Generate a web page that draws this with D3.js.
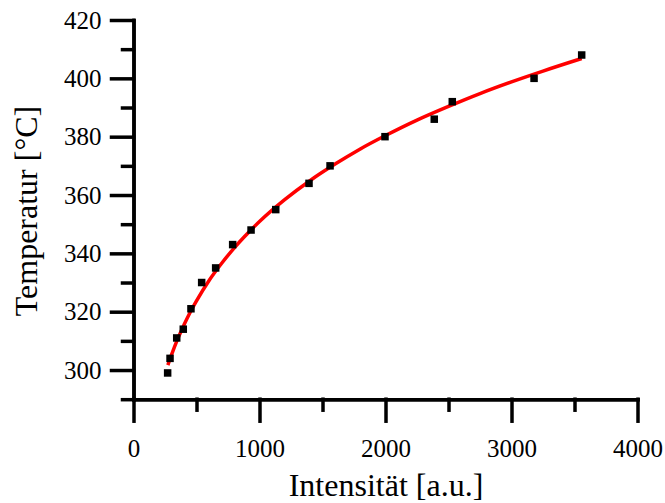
<!DOCTYPE html>
<html>
<head>
<meta charset="utf-8">
<script src="https://cdn.jsdelivr.net/npm/d3@7"></script>
<style>
    body { margin: 0; background: #fff; }
    svg { display: block; }
</style>
</head>
<body>
<div id="chart"></div>
<script>
// measured points
var intensity = [271, 290, 343, 395, 456, 541, 652, 787, 933, 1129, 1393, 1560, 1996, 2387, 2530, 3179, 3557];
var temperature = [299, 304, 311, 314, 321, 330, 335, 343, 348, 355, 364, 370, 380, 386, 392, 400, 408];

// fit curve
var fitX = [273, 300, 350, 400, 450, 500, 600, 700, 800, 1000, 1200, 1400, 1600, 1800, 2000, 2250, 2500, 2750, 3000, 3250, 3557];
var fitY = [301.7, 305.0, 310.6, 315.4, 319.8, 323.7, 330.7, 336.6, 341.9, 350.9, 358.4, 364.9, 370.6, 375.8, 380.4, 385.7, 390.4, 394.8, 398.8, 402.5, 406.8];

var xMajor = [0, 1000, 2000, 3000, 4000];
var xMinor = [500, 1500, 2500, 3500];
var yMajor = [300, 320, 340, 360, 380, 400, 420];
var yMinor = [290, 310, 330, 350, 370, 390, 410];

var serif = "'Liberation Serif', 'Times New Roman', serif";
var width = 665, height = 503;

var svg = d3.select("#chart")
    .append("svg")
    .attr("width", width)
    .attr("height", height);

var x = d3.scaleLinear().domain([0, 4000]).range([133.5, 637.5]);
var y = d3.scaleLinear().domain([290, 420]).range([399.2, 20]);

// minor ticks first
svg.append("g")
    .attr("class", "axis")
    .attr("transform", "translate(0," + y(290) + ")")
    .call(d3.axisBottom(x).tickValues(xMinor).tickSize(11).tickSizeOuter(0).tickFormat(""));

svg.append("g")
    .attr("class", "axis")
    .attr("transform", "translate(" + x(0) + ",0)")
    .call(d3.axisLeft(y).tickValues(yMinor).tickSize(11).tickSizeOuter(0).tickFormat(""));

svg.append("g")
    .attr("class", "axis")
    .attr("transform", "translate(0," + y(290) + ")")
    .call(d3.axisBottom(x).tickValues(xMajor).tickSize(22).tickSizeOuter(0).tickPadding(18).tickFormat(d3.format("d")));

svg.append("g")
    .attr("class", "axis")
    .attr("transform", "translate(" + x(0) + ",0)")
    .call(d3.axisLeft(y).tickValues(yMajor).tickSize(22).tickSizeOuter(0).tickPadding(10).tickFormat(d3.format("d")));

svg.selectAll(".axis path, .axis line")
    .attr("stroke", "#000")
    .attr("stroke-width", 3.5)
    .attr("stroke-linecap", "square");

svg.selectAll(".axis")
    .attr("font-family", serif)
    .attr("font-size", 25);

svg.selectAll(".axis text")
    .attr("fill", "#000")
    .style("font-family", serif)
    .style("font-size", "25px");

// fit line
var line = d3.line()
    .x(function(d) { return x(d[0]); })
    .y(function(d) { return y(d[1]); })
    .curve(d3.curveMonotoneX);

svg.append("path")
    .datum(fitX.map(function(d, i) { return [d, fitY[i]]; }))
    .attr("d", line)
    .attr("fill", "none")
    .attr("stroke", "#ff0000")
    .attr("stroke-width", 3.5);

// squares
var s = 7.5;
svg.selectAll("rect.pt")
    .data(intensity)
    .enter()
    .append("rect")
    .attr("class", "pt")
    .attr("x", function(d) { return x(d) - s / 2; })
    .attr("y", function(d, i) { return y(temperature[i]) - s / 2; })
    .attr("width", s)
    .attr("height", s)
    .attr("fill", "#000");

svg.append("text")
    .attr("x", 386)
    .attr("y", 496)
    .attr("text-anchor", "middle")
    .style("font-family", serif)
    .style("font-size", "32px")
    .text("Intensität [a.u.]");

svg.append("text")
    .attr("transform", "translate(37,211) rotate(-90)")
    .attr("text-anchor", "middle")
    .style("font-family", serif)
    .style("font-size", "32px")
    .text("Temperatur [°C]");
</script>
</body>
</html>
